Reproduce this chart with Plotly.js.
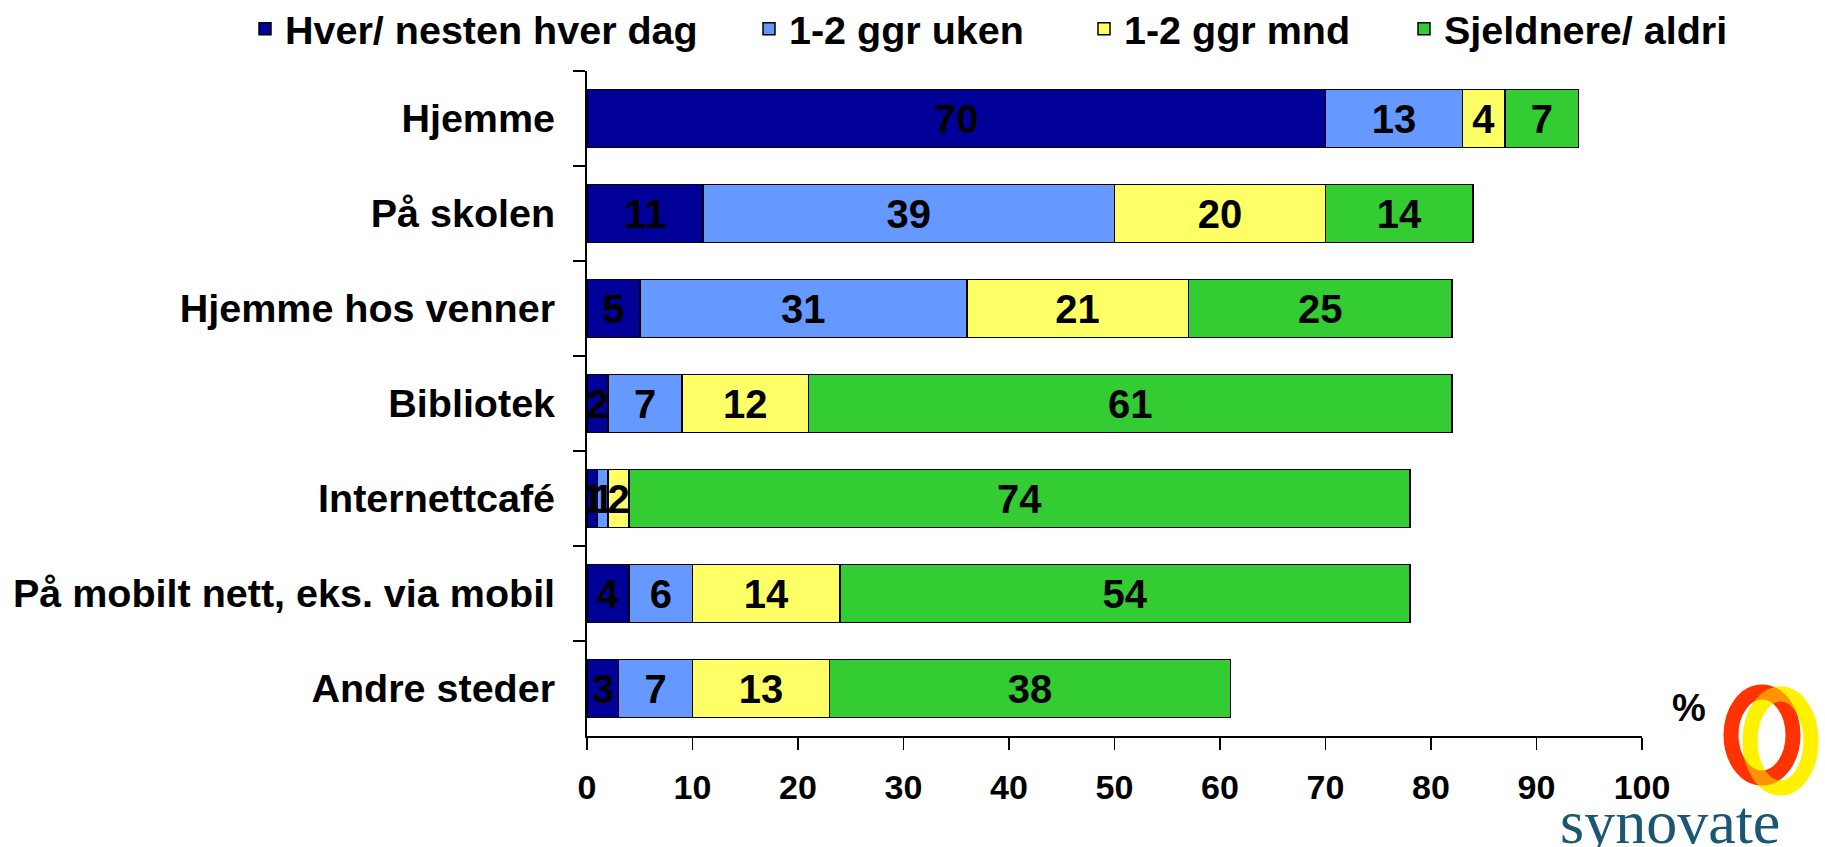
<!DOCTYPE html>
<html>
<head>
<meta charset="utf-8">
<script src="https://cdn.plot.ly/plotly-3.0.1.min.js"></script>
<style>
  html, body { margin: 0; padding: 0; background: #ffffff; }
  #chart { width: 1825px; height: 847px; }
</style>
</head>
<body>
<div id="chart"></div>
<script>
// ---- data ----
const categories = ["Hjemme", "På skolen", "Hjemme hos venner", "Bibliotek", "Internettcafé", "På mobilt nett, eks. via mobil", "Andre steder"];
const seriesNames = ["Hver/ nesten hver dag", "1-2 ggr uken", "1-2 ggr mnd", "Sjeldnere/ aldri"];
const daily   = [70, 11, 5, 2, 1, 4, 3];
const weekly  = [13, 39, 31, 7, 1, 6, 7];
const monthly = [4, 20, 21, 12, 2, 14, 13];
const rarely  = [7, 14, 25, 61, 74, 54, 38];
const xTickVals = [0, 10, 20, 30, 40, 50, 60, 70, 80, 90, 100];
const unitLabel = "%";
const logoText = "synovate";

// ---- styling ----
const colors = ["#000099", "#6699FF", "#FFFF66", "#33CC33"];
const seriesValues = [daily, weekly, monthly, rarely];
const FONT = "Liberation Sans, Arial, sans-serif";

// plot area in pixels
const L = 587, R = 1642, T = 71, B = 736;
const W = 1825, H = 847;
const px = p => (p - L) / (R - L);
const py = p => (B - p) / (B - T);
const cx = p => p / W;
const cy = p => 1 - p / H;

const legendKeys = ["legend", "legend2", "legend3", "legend4"];
const legendSquareLeft = [259, 763, 1098, 1418];

const traces = seriesValues.map((vals, i) => ({
  type: "bar",
  orientation: "h",
  name: seriesNames[i],
  y: categories,
  x: vals,
  text: vals.map(v => String(v)),
  textposition: "inside",
  insidetextanchor: "middle",
  textangle: 0,
  constraintext: "none",
  textfont: { family: FONT, size: 40, color: "#000000", weight: "bold" },
  insidetextfont: { family: FONT, size: 40, color: "#000000", weight: "bold" },
  marker: { color: colors[i], line: { color: "#000000", width: 1.5 } },
  legend: legendKeys[i],
  hoverinfo: "skip"
}));

const layout = {
  width: W,
  height: H,
  paper_bgcolor: "#ffffff",
  plot_bgcolor: "#ffffff",
  margin: { l: L, r: W - R, t: T, b: H - B, pad: 0, autoexpand: false },
  barmode: "stack",
  bargap: 0.39,
  font: { family: FONT, color: "#000000" },
  xaxis: {
    range: [0, 100],
    tickvals: xTickVals,
    ticktext: xTickVals.map(String),
    ticks: "outside",
    ticklen: 12,
    tickwidth: 1.5,
    tickcolor: "#000000",
    showline: true,
    linecolor: "#000000",
    linewidth: 2,
    showgrid: false,
    zeroline: false,
    fixedrange: true,
    automargin: false,
    ticklabelstandoff: 8,
    tickfont: { family: FONT, size: 34, color: "#000000", weight: "bold" }
  },
  yaxis: {
    type: "category",
    categoryorder: "array",
    categoryarray: categories,
    autorange: "reversed",
    tickson: "boundaries",
    ticks: "outside",
    ticklen: 12,
    tickwidth: 1.5,
    tickcolor: "#000000",
    showline: true,
    linecolor: "#000000",
    linewidth: 2,
    showgrid: false,
    zeroline: false,
    fixedrange: true,
    automargin: false,
    ticklabelstandoff: 22,
    tickfont: { family: FONT, size: 39.5, color: "#000000", weight: "bold" }
  },
  showlegend: true,
  annotations: [
    {
      xref: "paper", yref: "paper",
      x: px(1689), y: py(708),
      xanchor: "center", yanchor: "middle",
      text: unitLabel, showarrow: false,
      font: { family: FONT, size: 38, color: "#000000", weight: "bold" }
    },
    {
      xref: "paper", yref: "paper",
      x: px(1670), y: py(822),
      xanchor: "center", yanchor: "middle",
      text: logoText, showarrow: false,
      font: { family: "Liberation Serif, Times New Roman, serif", size: 62, color: "#1b5672" }
    }
  ],
  shapes: [
    // yellow ring
    { type: "circle", xref: "paper", yref: "paper", layer: "above",
      x0: px(1750), x1: px(1811), y0: py(788), y1: py(694),
      line: { color: "#FFF200", width: 15 }, fillcolor: "rgba(0,0,0,0)" },
    // red ring
    { type: "circle", xref: "paper", yref: "paper", layer: "above",
      x0: px(1731), x1: px(1793), y0: py(778), y1: py(692),
      line: { color: "#FF3300", width: 15 }, fillcolor: "rgba(0,0,0,0)" },
    // translucent yellow on top -> orange overlap
    { type: "circle", xref: "paper", yref: "paper", layer: "above", opacity: 0.5,
      x0: px(1750), x1: px(1811), y0: py(788), y1: py(694),
      line: { color: "#FFF200", width: 15 }, fillcolor: "rgba(0,0,0,0)" }
  ]
};

legendKeys.forEach((k, i) => {
  layout[k] = {
    orientation: "h",
    xref: "container", yref: "container",
    x: cx(legendSquareLeft[i] - 14),
    xanchor: "left",
    y: cy(29),
    yanchor: "middle",
    bgcolor: "rgba(0,0,0,0)",
    borderwidth: 0,
    font: { family: FONT, size: 39.5, color: "#000000", weight: "bold" },
    itemclick: false,
    itemdoubleclick: false
  };
});

Plotly.newPlot("chart", traces, layout, { displayModeBar: false, staticPlot: true });
</script>
</body>
</html>
